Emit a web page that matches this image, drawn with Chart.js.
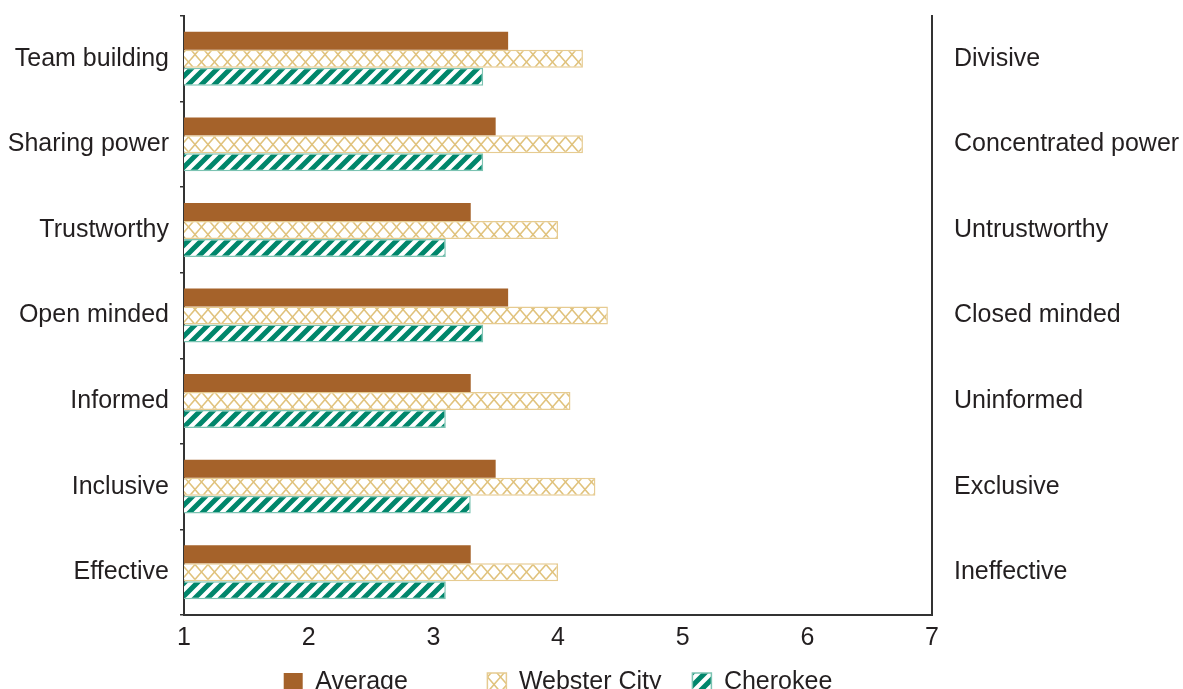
<!DOCTYPE html>
<html>
<head>
<meta charset="utf-8">
<script src="https://cdn.jsdelivr.net/npm/chart.js@4"></script>
<style>
  html, body { margin: 0; padding: 0; background: #fff; overflow: hidden; }
  #wrap { width: 1183px; height: 689px; overflow: hidden; }
  #traitsChart { display: block; margin-top: -13px; }
</style>
</head>
<body>
<div id="wrap"><canvas id="traitsChart" width="1183" height="718"></canvas></div>
<script>
const categories = ['Team building', 'Sharing power', 'Trustworthy', 'Open minded', 'Informed', 'Inclusive', 'Effective'];
const opposites = ['Divisive', 'Concentrated power', 'Untrustworthy', 'Closed minded', 'Uninformed', 'Exclusive', 'Ineffective'];
const average = [3.6, 3.5, 3.3, 3.6, 3.3, 3.5, 3.3];
const websterCity = [4.2, 4.2, 4.0, 4.4, 4.1, 4.3, 4.0];
const cherokee = [3.4, 3.4, 3.1, 3.4, 3.1, 3.3, 3.1];
const xTicks = [1, 2, 3, 4, 5, 6, 7];

const FONT = "'Liberation Sans', Arial, sans-serif";
const TEXT = '#231f20';
// extra spacing after each legend entry (the legend gaps are uneven)
const legendGaps = [9, 2, 0];

// lattice fill for Webster City
function latticePattern() {
    const w = 13, h = 15;
    const c = document.createElement('canvas');
    c.width = w; c.height = h;
    const g = c.getContext('2d');
    g.fillStyle = '#fff';
    g.fillRect(0, 0, w, h);
    g.strokeStyle = '#e0c27c';
    g.lineWidth = 1.5;
    g.beginPath();
    g.moveTo(w / 2, 0); g.lineTo(w, h / 2); g.lineTo(w / 2, h); g.lineTo(0, h / 2); g.closePath();
    g.stroke();
    return g.createPattern(c, 'repeat');
}

// diagonal stripes for Cherokee
function stripePattern() {
    const s = 13;
    const c = document.createElement('canvas');
    c.width = s; c.height = s;
    const g = c.getContext('2d');
    g.fillStyle = '#fff';
    g.fillRect(0, 0, s, s);
    g.strokeStyle = '#00866b';
    g.lineWidth = 5;
    g.beginPath();
    g.moveTo(-3, s + 3); g.lineTo(s + 3, -3);
    g.moveTo(-3, 3); g.lineTo(3, -3);
    g.moveTo(s - 3, s + 3); g.lineTo(s + 3, s - 3);
    g.stroke();
    return g.createPattern(c, 'repeat');
}

document.addEventListener('DOMContentLoaded', () => {
    const ctx = document.getElementById('traitsChart').getContext('2d');

    new Chart(ctx, {
        type: 'bar',
        data: {
            labels: categories,
            datasets: [
                {
                    label: 'Average',
                    data: average,
                    backgroundColor: '#a5622a',
                    borderWidth: 0
                },
                {
                    label: 'Webster City',
                    data: websterCity,
                    backgroundColor: latticePattern(),
                    borderColor: '#e6cb91',
                    borderWidth: 1.5
                },
                {
                    label: 'Cherokee',
                    data: cherokee,
                    backgroundColor: stripePattern(),
                    borderColor: '#7cc3b2',
                    borderWidth: 1.5
                }
            ]
        },
        options: {
            indexAxis: 'y',
            responsive: false,
            animation: false,
            base: 1,
            categoryPercentage: 0.63,
            barPercentage: 1,
            layout: {
                padding: { top: -18, left: 0, right: 0, bottom: 0 }
            },
            plugins: {
                tooltip: { enabled: false },
                legend: {
                    position: 'bottom',
                    fullSize: false,
                    labels: {
                        font: { family: FONT, size: 25 },
                        color: TEXT,
                        boxWidth: 19,
                        boxHeight: 19,
                        padding: 17,
                        generateLabels: (chart) => {
                            const items = Chart.defaults.plugins.legend.labels.generateLabels(chart);
                            items.forEach((it, i) => { it.text = it.text + ' '.repeat(legendGaps[i]); });
                            return items;
                        }
                    }
                }
            },
            scales: {
                x: {
                    type: 'linear',
                    min: 1,
                    max: 7,
                    afterBuildTicks: (scale) => {
                        scale.ticks = xTicks.map(v => ({ value: v }));
                    },
                    grid: { display: false },
                    border: { display: true, color: '#333', width: 2 },
                    ticks: {
                        font: { family: FONT, size: 25 },
                        color: TEXT,
                        padding: 0,
                        maxRotation: 0
                    }
                },
                y: {
                    position: 'left',
                    afterFit: (scale) => { scale.width = 184; },
                    grid: {
                        drawOnChartArea: false,
                        offset: true,
                        tickLength: 4,
                        color: '#333',
                        lineWidth: 1.5
                    },
                    border: { display: true, color: '#333', width: 2 },
                    ticks: {
                        font: { family: FONT, size: 25 },
                        color: TEXT,
                        padding: 11
                    }
                },
                y2: {
                    type: 'category',
                    position: 'right',
                    labels: opposites,
                    offset: true,
                    afterFit: (scale) => { scale.width = 251; },
                    grid: { display: false },
                    border: { display: true, color: '#333', width: 2 },
                    ticks: {
                        font: { family: FONT, size: 25 },
                        color: TEXT,
                        padding: 14
                    }
                }
            }
        }
    });
});
</script>
</body>
</html>
